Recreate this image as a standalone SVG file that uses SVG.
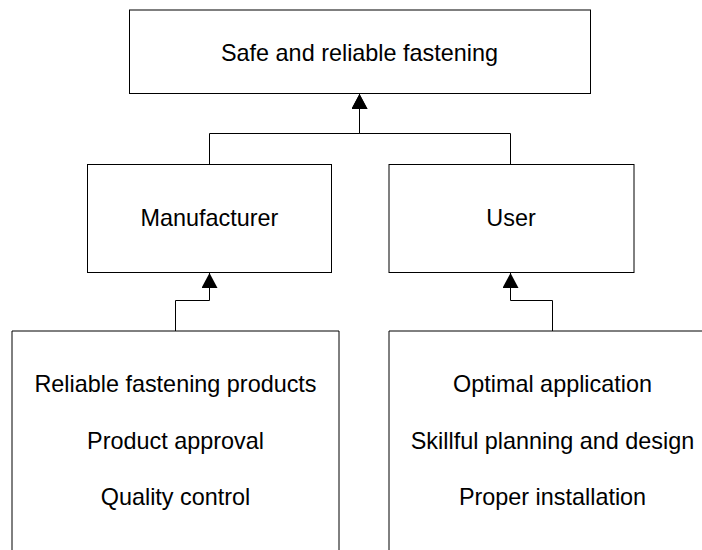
<svg xmlns="http://www.w3.org/2000/svg" width="702" height="550" viewBox="0 0 702 550">
  <style>
    .box { fill: #ffffff; stroke: #000000; stroke-width: 1; }
    .open { fill: none; stroke: #000000; stroke-width: 1; }
    .label { font-family: "Liberation Sans", Arial, sans-serif; font-size: 23.4px; fill: #000000; text-anchor: middle; }
    .link { fill: none; stroke: #000000; stroke-width: 1; marker-end: url(#arrow); }
  </style>
  <defs>
    <marker id="arrow" markerUnits="userSpaceOnUse" markerWidth="16" markerHeight="16" refX="15" refY="8" orient="auto">
      <path d="M0,0 L15,8 L0,16 Z" fill="#000000"/>
    </marker>
  </defs>
  <rect width="702" height="550" fill="#ffffff"/>

  <g id="connectors">
    <path class="link" d="M209.5,164 V133.5 H359.5 V94"/>
    <path class="link" d="M510.5,164 V133.5 H359.5 V94"/>
    <path class="link" d="M175.5,331 V300.5 H209.5 V273"/>
    <path class="link" d="M552.5,331 V300.5 H510.5 V273"/>
  </g>

  <g id="goal">
    <rect class="box" x="129.5" y="10" width="461" height="83.5"/>
    <text class="label" x="359.5" y="61">Safe and reliable fastening</text>
  </g>

  <g id="manufacturer">
    <rect class="box" x="87.5" y="164.5" width="244" height="108"/>
    <text class="label" x="209.5" y="226">Manufacturer</text>
  </g>

  <g id="user">
    <rect class="box" x="389" y="164.5" width="245" height="108"/>
    <text class="label" x="511" y="226">User</text>
  </g>

  <g id="manufacturer-tasks">
    <path class="open" d="M12,551 V331 H339 V551"/>
    <text class="label" x="175.5" y="392">Reliable fastening products</text>
    <text class="label" x="175.5" y="448.5">Product approval</text>
    <text class="label" x="175.5" y="505">Quality control</text>
  </g>

  <g id="user-tasks">
    <path class="open" d="M389,551 V331 H716"/>
    <text class="label" x="552.5" y="392">Optimal application</text>
    <text class="label" x="552.5" y="448.5">Skillful planning and design</text>
    <text class="label" x="552.5" y="505">Proper installation</text>
  </g>
</svg>
